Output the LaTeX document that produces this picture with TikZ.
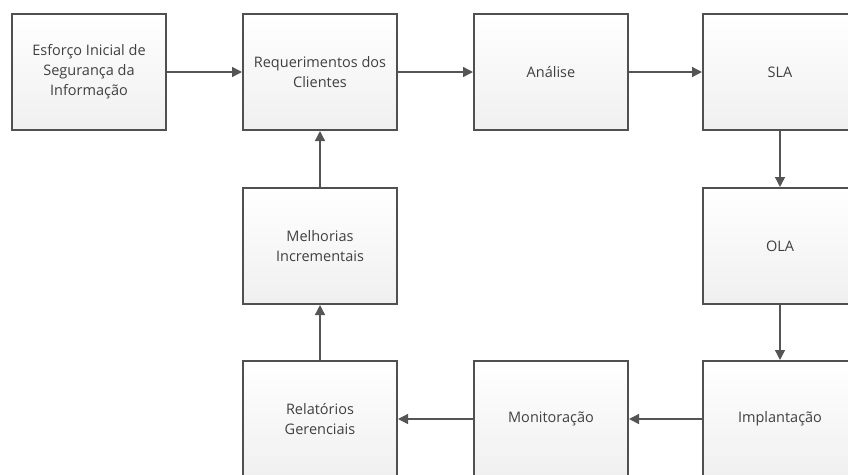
\documentclass[tikz,border=0pt]{standalone}
\usepackage{fontspec}
\setmainfont{Open Sans}
\usetikzlibrary{arrows.meta,shadows}
\definecolor{boxline}{HTML}{505050}
\definecolor{txt}{HTML}{404040}
\definecolor{arrowc}{HTML}{555555}
\tikzset{
  procbox/.style={draw=boxline, line width=2pt, top color=white, bottom color=black!6,
    minimum width=154pt, minimum height=116pt, align=center, text=txt,
    font=\fontsize{14.5pt}{20pt}\selectfont,
    drop shadow={shadow xshift=1.2pt, shadow yshift=-1.2pt, opacity=0.18}},
  flow/.style={draw=arrowc, line width=1.4pt, -{Triangle[length=10pt,width=10pt]}}
}
\begin{document}
\begin{tikzpicture}[x=1pt,y=-1pt]
\useasboundingbox (0,0) rectangle (848,474);
\node[procbox] (esf) at (89,72) {Esforço Inicial de\\Segurança da\\Informação};
\node[procbox] (req) at (320,72) {Requerimentos dos\\Clientes};
\node[procbox] (ana) at (551,72) {Análise};
\node[procbox] (sla) at (780,72) {SLA};
\node[procbox] (mel) at (320,246) {Melhorias\\Incrementais};
\node[procbox] (ola) at (780,246) {OLA};
\node[procbox] (rel) at (320,419) {Relatórios\\Gerenciais};
\node[procbox] (mon) at (551,419) {Monitoração};
\node[procbox] (imp) at (780,419) {Implantação};
\draw[flow] (esf) -- (req);
\draw[flow] (req) -- (ana);
\draw[flow] (ana) -- (sla);
\draw[flow] (sla) -- (ola);
\draw[flow] (ola) -- (imp);
\draw[flow] (imp) -- (mon);
\draw[flow] (mon) -- (rel);
\draw[flow] (rel) -- (mel);
\draw[flow] (mel) -- (req);
\end{tikzpicture}
\end{document}
